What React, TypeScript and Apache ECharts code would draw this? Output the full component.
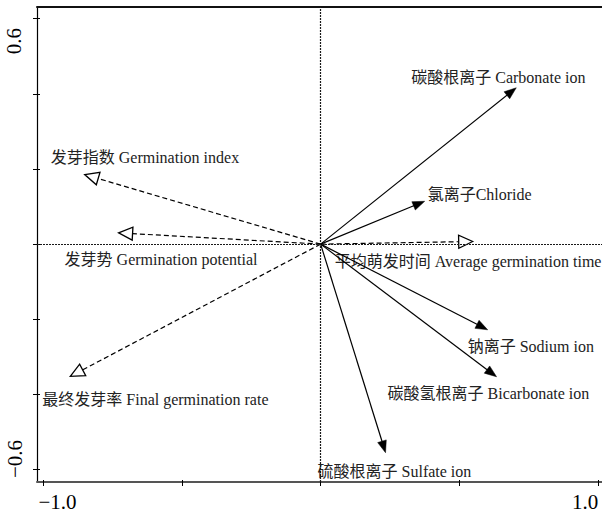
import React, { useEffect, useRef } from "react";
import * as echarts from "echarts";

// ---- data ----
const variableNames = [
  "碳酸根离子 Carbonate ion",
  "氯离子Chloride",
  "平均萌发时间 Average germination time",
  "钠离子 Sodium ion",
  "碳酸氢根离子 Bicarbonate ion",
  "硫酸根离子 Sulfate ion",
  "发芽指数 Germination index",
  "发芽势 Germination potential",
  "最终发芽率 Final germination rate",
];
const axis1Scores = [0.705, 0.375, 0.548, 0.602, 0.634, 0.234, -0.85, -0.728, -0.902];
const axis2Scores = [0.416, 0.114, 0.007, -0.228, -0.353, -0.555, 0.185, 0.03, -0.352];
// "env" = explanatory (solid arrow), "resp" = response (dashed, open head)
const variableGroup = ["env", "env", "resp", "env", "env", "env", "resp", "resp", "resp"];

const xTickValues = [-1, -0.5, 0, 0.5, 1];
const yTickValues = [-0.6, -0.4, -0.2, 0, 0.2, 0.4, 0.6];
const xTickLabels = ["−1.0", "1.0"];
const yTickLabels = ["0.6", "−0.6"];

// ---- layout (pixels) ----
const labelOffsets = [
  [-105, -10],
  [3, -7],
  [-138, 20],
  [-20, 17],
  [-109, 17],
  [-68, 19],
  [-34, -17],
  [-54, 27],
  [-28, 23],
];
const xTickLabelPos = [
  [57.5, 502],
  [585, 502],
];
const yTickLabelPos = [
  [14, 41],
  [15, 459],
];

const X_MIN = -1.022;
const X_MAX = 1.014;
const Y_MIN = -0.633;
const Y_MAX = 0.631;

const LABEL_FONT = '"Liberation Serif", "Noto Sans CJK SC", serif';

export default function App() {
  const ref = useRef<HTMLDivElement>(null);

  useEffect(() => {
    if (!ref.current) return;
    const chart = echarts.init(ref.current, null, { renderer: "svg" });

    const data = axis1Scores.map((x, i) => [x, axis2Scores[i]]);

    const renderItem = (params: any, api: any) => {
      const i = params.dataIndex;
      const x = api.value(0);
      const y = api.value(1);
      const o = api.coord([0, 0]);
      const t = api.coord([x, y]);
      const dx = t[0] - o[0];
      const dy = t[1] - o[1];
      const len = Math.hypot(dx, dy) || 1;
      const ux = dx / len;
      const uy = dy / len;
      const nx = -uy;
      const ny = ux;
      const resp = variableGroup[i] === "resp";
      const L = resp ? 14 : 12;
      const W = resp ? 6.5 : 4.5;
      const bx = t[0] - L * ux;
      const by = t[1] - L * uy;
      const endX = resp ? bx : t[0] - (L / 2) * ux;
      const endY = resp ? by : t[1] - (L / 2) * uy;
      const off = labelOffsets[i];
      return {
        type: "group",
        children: [
          {
            type: "line",
            shape: { x1: o[0], y1: o[1], x2: endX, y2: endY },
            style: {
              stroke: "#000",
              lineWidth: 1.2,
              lineDash: resp ? [5, 3] : null,
            },
          },
          {
            type: "polygon",
            shape: {
              points: [
                [t[0], t[1]],
                [bx + W * nx, by + W * ny],
                [bx - W * nx, by - W * ny],
              ],
            },
            style: {
              fill: resp ? "#fff" : "#000",
              stroke: "#000",
              lineWidth: resp ? 1.3 : 0.5,
              lineJoin: "miter",
            },
          },
          {
            type: "text",
            x: t[0] + off[0],
            y: t[1] + off[1],
            style: {
              text: variableNames[i],
              fill: "#222",
              fontSize: 16,
              fontFamily: LABEL_FONT,
              align: "left",
              verticalAlign: "middle",
            },
          },
        ],
      };
    };

    const baseX = { type: "value", min: X_MIN, max: X_MAX, splitLine: { show: false }, axisLabel: { show: false } };
    const baseY = { type: "value", min: Y_MIN, max: Y_MAX, splitLine: { show: false }, axisLabel: { show: false } };

    const tickFont = '21px "Liberation Serif", serif';

    chart.setOption({
      animation: false,
      grid: { left: 37, top: 7, width: 565, height: 475, show: false },
      xAxis: [
        {
          ...baseX,
          position: "bottom",
          axisLine: { show: true, onZero: false, lineStyle: { color: "#555", width: 2 } },
          axisTick: { show: true, inside: false, length: 4, customValues: xTickValues, lineStyle: { color: "#000", width: 1 } },
        },
        {
          ...baseX,
          position: "bottom",
          axisLine: { show: false, onZero: false },
          axisTick: { show: true, inside: true, length: 2, customValues: xTickValues, lineStyle: { color: "#000", width: 1 } },
        },
        {
          ...baseX,
          position: "top",
          axisLine: { show: true, onZero: false, lineStyle: { color: "#111", width: 2 } },
          axisTick: { show: false },
        },
      ],
      yAxis: [
        {
          ...baseY,
          position: "left",
          axisLine: { show: true, onZero: false, lineStyle: { color: "#000", width: 1.2 } },
          axisTick: { show: true, inside: false, length: 4, customValues: yTickValues, lineStyle: { color: "#000", width: 1 } },
        },
        {
          ...baseY,
          position: "left",
          axisLine: { show: false, onZero: false },
          axisTick: { show: true, inside: true, length: 3, customValues: yTickValues, lineStyle: { color: "#000", width: 1 } },
        },
      ],
      graphic: [
        ...xTickLabels.map((s, k) => ({
          type: "text",
          x: xTickLabelPos[k][0],
          y: xTickLabelPos[k][1],
          style: { text: s, font: tickFont, fill: "#000", align: "center", verticalAlign: "middle" },
        })),
        ...yTickLabels.map((s, k) => ({
          type: "text",
          x: yTickLabelPos[k][0],
          y: yTickLabelPos[k][1],
          rotation: Math.PI / 2,
          style: { text: s, font: tickFont, fill: "#000", align: "center", verticalAlign: "middle" },
        })),
      ],
      series: [
        {
          type: "line",
          xAxisIndex: 0,
          yAxisIndex: 0,
          data: [],
          z: 1,
          silent: true,
          markLine: {
            silent: true,
            symbol: "none",
            label: { show: false },
            lineStyle: { color: "#1a1a1a", width: 1.2, type: [2, 1] },
            data: [{ xAxis: 0 }, { yAxis: 0 }],
          },
        },
        {
          type: "custom",
          xAxisIndex: 0,
          yAxisIndex: 0,
          z: 2,
          clip: false,
          renderItem,
          data,
        },
      ],
    });

    return () => chart.dispose();
  }, []);

  return (
    <div
      ref={ref}
      style={{ position: "absolute", left: 0, top: 0, width: 602, height: 514, background: "#fff" }}
    />
  );
}
